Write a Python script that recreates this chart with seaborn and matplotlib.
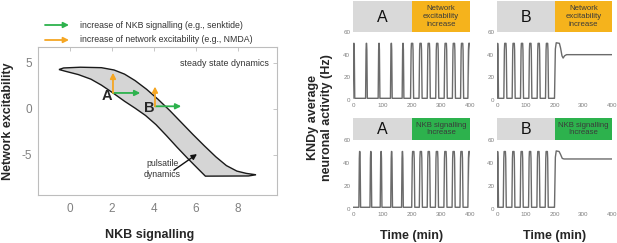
import matplotlib
matplotlib.use("Agg")
import matplotlib.pyplot as plt
import numpy as np
import pandas as pd
import seaborn as sns

# ---- left panel: region of pulsatile dynamics in (NKB, excitability) plane
upper_x = [-0.52, -0.3, 0.5, 1.5, 2.1, 2.6, 3.1, 3.65, 4.2, 4.75, 5.3, 5.85, 6.4, 6.95, 7.45, 7.95, 8.4, 8.86]
upper_y = [4.25, 4.42, 4.5, 4.45, 4.2, 3.75, 3.05, 2.1, 1.0, -0.2, -1.5, -2.8, -4.05, -5.25, -6.2, -6.8, -7.05, -7.2]
lower_x = [8.86, 8.5, 6.45, 6.1, 5.6, 5.1, 4.6, 4.1, 3.6, 3.1, 2.6, 2.05, 1.5, 1.0, 0.4, -0.2, -0.52]
lower_y = [-7.2, -7.33, -7.35, -6.55, -5.4, -4.2, -2.95, -1.75, -0.75, 0.05, 0.8, 1.7, 2.55, 3.2, 3.7, 4.05, 4.25]

points = {"A": (2.05, 1.7), "B": (4.05, 0.25)}
nkb_arrow_end = {"A": 3.35, "B": 5.3}
exc_arrow_end = {"A": 3.9, "B": 2.4}

# ---- right panels: simulated KNDy activity traces (min, Hz)
base_level = 1.5
peak_level = 50
a_top_pre = [3, 46, 89, 131, 171]
a_top_post = [202, 231, 259, 288, 317, 345, 373, 398]
b_top_pre = [0, 29, 58, 87, 116, 145, 174]
b_top_tail_t = [197, 200, 203, 206, 217, 221, 226, 230, 235, 242, 400]
b_top_tail_v = [1.5, 1.5, 45, 50.5, 50, 46, 39, 37, 39, 40, 40]
a_bot_pre = [23, 61, 96, 132, 169]
a_bot_post = [206, 232, 259, 287, 316, 344, 371, 398]
b_bot_pre = [0, 27, 57, 86, 115, 144, 173]
b_bot_tail_t = [197, 200, 203, 206, 216, 221, 227, 233, 400]
b_bot_tail_v = [1.5, 1.5, 45, 50.5, 50, 47.5, 44, 43.5, 43.5]

GREEN = "#2db24d"
ORANGE = "#f5a623"
HEAD_ORANGE = "#f5b31c"
HEAD_GRAY = "#d9d9d9"
TRACE = "#6b6b6b"
TICK_GRAY = "#808080"

W, H = 617, 243


def pulse_train(centers, rise, flat):
    """Trapezoid pulses around the given peak times."""
    t, v = [0.0], [base_level]
    for c in centers:
        half = flat / 2
        t += [c - half - rise, c - half - rise * 0.35, c - half, c + half, c + half + rise * 0.35, c + half + rise]
        v += [base_level, peak_level - 6, peak_level, peak_level, peak_level - 6, base_level]
    return t, v


def trace_frame(t, v):
    df = pd.DataFrame({"t": t, "v": v})
    return df.iloc[np.argsort(df["t"].to_numpy(), kind="stable")]


def fig_axes(x0, y0, x1, y1):
    return fig.add_axes([x0 / W, 1 - y1 / H, (x1 - x0) / W, (y1 - y0) / H])


sns.set_theme(style="white")
plt.rcParams["font.family"] = ["Liberation Sans", "DejaVu Sans"]
plt.rcParams["axes.unicode_minus"] = False

fig = plt.figure(figsize=(W / 100, H / 100), dpi=100)

# ---------------- left panel
ax = fig_axes(38, 47, 277, 195)
ax.fill(upper_x + lower_x, upper_y + lower_y, facecolor="#d5d5d5", edgecolor="#1a1a1a", lw=1.0, zorder=1)
for name, (px, py) in points.items():
    ax.annotate("", xy=(nkb_arrow_end[name], py), xytext=(px, py),
                arrowprops=dict(arrowstyle="-|>", color=GREEN, lw=1.3, mutation_scale=8, shrinkA=0, shrinkB=0), zorder=3)
    ax.annotate("", xy=(px, exc_arrow_end[name]), xytext=(px, py),
                arrowprops=dict(arrowstyle="-|>", color=ORANGE, lw=1.3, mutation_scale=8, shrinkA=0, shrinkB=0), zorder=3)
ax.text(1.78, 1.35, "A", fontsize=10.5, fontweight="bold", ha="center", va="center", zorder=4)
ax.text(3.8, 0.1, "B", fontsize=10.5, fontweight="bold", ha="center", va="center", zorder=4)
ax.text(9.45, 4.95, "steady state dynamics", fontsize=6.4, color="#333333", ha="right", va="center")
ax.text(4.4, -6.6, "pulsatile\ndynamics", fontsize=6.3, color="#333333", ha="center", va="center", linespacing=1.3)
ax.annotate("", xy=(6.05, -4.95), xytext=(4.95, -6.7),
            arrowprops=dict(arrowstyle="-|>", color="#111111", lw=1.0, mutation_scale=8, shrinkA=0, shrinkB=0))
ax.set_xlim(-1.52, 9.86)
ax.set_ylim(-9.4, 6.7)
ax.set_xticks([0, 2, 4, 6, 8])
ax.set_yticks([-5, 0, 5])
ax.tick_params(direction="in", length=3, width=0.6, color="#bdbdbd", top=True, right=True,
               labelsize=8.5, labelcolor=TICK_GRAY)
ax.tick_params(axis="x", pad=6)
ax.tick_params(axis="y", pad=4)
for s in ax.spines.values():
    s.set_color("#bdbdbd")
    s.set_linewidth(0.8)
fig.text(150 / W, 1 - 235 / H, "NKB signalling", fontsize=9, fontweight="bold", ha="center", va="center")
fig.text(8 / W, 1 - 121 / H, "Network excitability", fontsize=9, fontweight="bold", rotation=90,
         ha="center", va="center")

# legend above the panel
for yy, col, label in [(25, GREEN, "increase of NKB signalling (e.g., senktide)"),
                       (40, ORANGE, "increase of network excitability (e.g., NMDA)")]:
    fig.add_artist(matplotlib.patches.FancyArrowPatch(
        (45 / W, 1 - yy / H), (69 / W, 1 - yy / H), transform=fig.transFigure,
        arrowstyle="-|>", color=col, lw=1.3, mutation_scale=8, shrinkA=0, shrinkB=0))
    fig.text(80 / W, 1 - yy / H, label, fontsize=6.3, color="#333333", va="center", ha="left")

# ---------------- right panels
panels = [
    ("A", "Network\nexcitability\nincrease", HEAD_ORANGE, pulse_train(a_top_pre, 2.5, 1.0), pulse_train(a_top_post, 3.0, 4.5), None,
     (353, 470), (1, 32, 100)),
    ("B", "Network\nexcitability\nincrease", HEAD_ORANGE, pulse_train(b_top_pre, 3.0, 4.5), None, (b_top_tail_t, b_top_tail_v),
     (497, 612), (1, 32, 100)),
    ("A", "NKB signalling\nIncrease", GREEN, pulse_train(a_bot_pre, 2.5, 1.0), pulse_train(a_bot_post, 3.0, 4.5), None,
     (353, 470), (118, 140, 209)),
    ("B", "NKB signalling\nIncrease", GREEN, pulse_train(b_bot_pre, 3.0, 4.5), None, (b_bot_tail_t, b_bot_tail_v),
     (497, 612), (118, 140, 209)),
]

for i, (letter, head_text, head_col, pre, post, tail, (x0, x1), (yh, ya, yb)) in enumerate(panels):
    head = fig_axes(x0, yh, x1, ya)
    head.axvspan(0, 200, color=HEAD_GRAY, lw=0)
    head.axvspan(200, 400, color=head_col, lw=0)
    head.set_xlim(0, 400)
    head.set_ylim(0, 1)
    head.axis("off")
    head.text(100, 0.47, letter, fontsize=11.5, ha="center", va="center", color="#111111")
    head.text(300, 0.5, head_text, fontsize=5.6, ha="center", va="center", color="#3a3a3a", linespacing=1.15)

    axp = fig_axes(x0, ya, x1, yb)
    t_pre, v_pre = pre
    keep = [k for k, tt in enumerate(t_pre) if tt <= 200]
    t_all = [t_pre[k] for k in keep]
    v_all = [v_pre[k] for k in keep]
    if post is not None:
        t_all += post[0][1:]
        v_all += post[1][1:]
    else:
        t_all += tail[0]
        v_all += tail[1]
    df = trace_frame(t_all, v_all)
    sns.lineplot(data=df, x="t", y="v", ax=axp, sort=False, estimator=None, color=TRACE, lw=1.0)
    axp.set_xlim(0, 400)
    axp.set_ylim(0, 60)
    axp.set_xticks([0, 100, 200, 300, 400])
    axp.set_yticks([0, 20, 40, 60])
    axp.tick_params(length=0, labelsize=4.5, labelcolor=TICK_GRAY, pad=2)
    for s in axp.spines.values():
        s.set_visible(False)
    axp.set_ylabel("")
    axp.set_xlabel("")
    if yb > 150:
        fig.text((x0 + x1) / 2 / W, 1 - 236 / H, "Time (min)", fontsize=9, fontweight="bold",
                 ha="center", va="center")

fig.text(320 / W, 1 - 118 / H, "KNDy average\nneuronal activity (Hz)", rotation=90, fontsize=9,
         fontweight="bold", ha="center", va="center", multialignment="center", linespacing=1.3)

fig.savefig("out.png", dpi=100)
